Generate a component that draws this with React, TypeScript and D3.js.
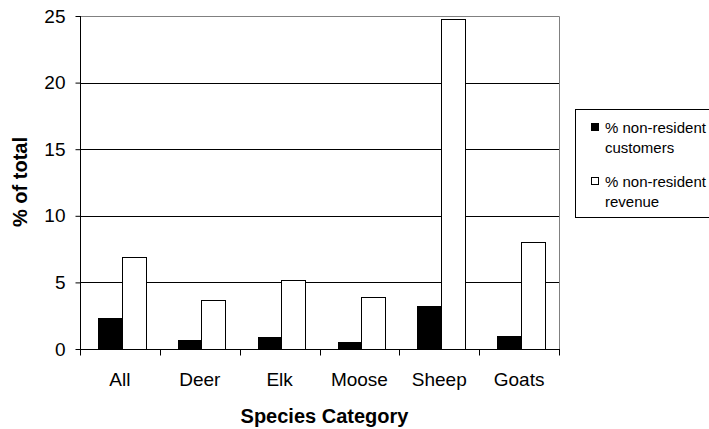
import React, { useEffect, useRef } from "react";
import * as d3 from "d3";

const categories = ["All", "Deer", "Elk", "Moose", "Sheep", "Goats"];
const seriesNames = ["% non-resident customers", "% non-resident revenue"];
const legendLines = [
  ["% non-resident", "customers"],
  ["% non-resident", "revenue"],
];
const customers = [2.35, 0.67, 0.92, 0.5, 3.2, 0.95];
const revenue = [6.92, 3.67, 5.15, 3.9, 24.79, 8.0];
const yTicks = [0, 5, 10, 15, 20, 25];

const W = 709;
const H = 429;

const App: React.FC = () => {
  const svgRef = useRef<SVGSVGElement | null>(null);

  useEffect(() => {
    const svg = d3.select(svgRef.current);
    svg.selectAll("*").remove();

    const plot = { left: 80, right: 559, top: 16, bottom: 349 };
    const font = "'Liberation Sans', Arial, sans-serif";

    const x = d3
      .scaleBand<string>()
      .domain(categories)
      .range([plot.left, plot.right])
      .padding(0);
    const xs = d3
      .scaleBand<number>()
      .domain([0, 1])
      .range([18, 65])
      .padding(0);
    const y = d3.scaleLinear().domain([0, 25]).range([plot.bottom, plot.top]);

    // grid lines
    svg
      .append("g")
      .selectAll("line")
      .data(yTicks.filter((t) => t > 0 && t < 25))
      .enter()
      .append("line")
      .attr("x1", plot.left)
      .attr("x2", plot.right)
      .attr("y1", (d) => Math.round(y(d)) + 0.5)
      .attr("y2", (d) => Math.round(y(d)) + 0.5)
      .attr("stroke", "#000")
      .attr("stroke-width", 1);

    // plot border (top + right)
    svg
      .append("path")
      .attr(
        "d",
        `M${plot.left},${Math.round(y(25)) + 0.5}H${plot.right + 0.5}V${plot.bottom}`
      )
      .attr("fill", "none")
      .attr("stroke", "#808080")
      .attr("stroke-width", 1);

    // bars
    const seriesVals = [customers, revenue];
    const fills = ["#000", "#fff"];
    seriesVals.forEach((vals, si) => {
      svg
        .append("g")
        .selectAll("rect")
        .data(vals)
        .enter()
        .append("rect")
        .attr("x", (_, i) => Math.round(x(categories[i])! + xs(si)!) + 0.5)
        .attr("y", (d) => Math.round(y(d)) + 0.5)
        .attr("width", Math.round(xs.bandwidth()))
        .attr("height", (d) => Math.round(plot.bottom - y(d)))
        .attr("fill", fills[si])
        .attr("stroke", "#000")
        .attr("stroke-width", 1);
    });

    // y axis
    const yAxis = svg
      .append("g")
      .attr("transform", `translate(${plot.left + 0.5},0)`)
      .call(
        d3
          .axisLeft(y)
          .tickValues(yTicks)
          .tickSize(5)
          .tickPadding(10)
          .tickFormat((d) => String(d))
      );
    yAxis
      .select(".domain")
      .attr("stroke", "#000")
      .attr("d", `M0,${plot.top}V${plot.bottom}`);
    yAxis.selectAll(".tick line").attr("stroke", "#000");
    yAxis
      .selectAll("text")
      .attr("font-family", font)
      .attr("font-size", 19)
      .attr("fill", "#000");

    // x axis
    const xAxis = svg
      .append("g")
      .attr("transform", `translate(0,${plot.bottom + 0.5})`);
    xAxis
      .append("line")
      .attr("x1", plot.left)
      .attr("x2", plot.right + 1)
      .attr("stroke", "#000");
    const tickPos = categories.map((c) => x(c)!).concat([plot.right]);
    xAxis
      .selectAll("line.tk")
      .data(tickPos)
      .enter()
      .append("line")
      .attr("class", "tk")
      .attr("x1", (d) => Math.round(d) + 0.5)
      .attr("x2", (d) => Math.round(d) + 0.5)
      .attr("y1", 0)
      .attr("y2", 6)
      .attr("stroke", "#000");
    xAxis
      .selectAll("text")
      .data(categories)
      .enter()
      .append("text")
      .attr("x", (d) => x(d)! + x.bandwidth() / 2)
      .attr("y", 36.5)
      .attr("text-anchor", "middle")
      .attr("font-family", font)
      .attr("font-size", 19)
      .text((d) => d);

    // axis titles
    svg
      .append("text")
      .attr("x", (plot.left + plot.right) / 2 + 5)
      .attr("y", 423)
      .attr("text-anchor", "middle")
      .attr("font-family", font)
      .attr("font-size", 20)
      .attr("font-weight", "bold")
      .text("Species Category");
    svg
      .append("text")
      .attr("transform", `translate(27,182) rotate(-90)`)
      .attr("text-anchor", "middle")
      .attr("font-family", font)
      .attr("font-size", 20)
      .attr("font-weight", "bold")
      .text("% of total");

    // legend
    const lg = svg.append("g");
    lg.append("rect")
      .attr("x", 575.5)
      .attr("y", 109.5)
      .attr("width", 150)
      .attr("height", 108)
      .attr("fill", "#fff")
      .attr("stroke", "#000");
    seriesNames.forEach((_, i) => {
      const base = 133 + i * 54;
      lg.append("rect")
        .attr("x", 591.5)
        .attr("y", base - 9.5)
        .attr("width", 7)
        .attr("height", 7)
        .attr("fill", fills[i])
        .attr("stroke", "#000");
      legendLines[i].forEach((t, j) => {
        lg.append("text")
          .attr("x", 605)
          .attr("y", base + j * 20)
          .attr("font-family", font)
          .attr("font-size", 15)
          .text(t);
      });
    });
  }, []);

  return (
    <svg
      ref={svgRef}
      width={W}
      height={H}
      style={{ position: "absolute", left: 0, top: 0, background: "#fff" }}
    />
  );
};

export default App;
